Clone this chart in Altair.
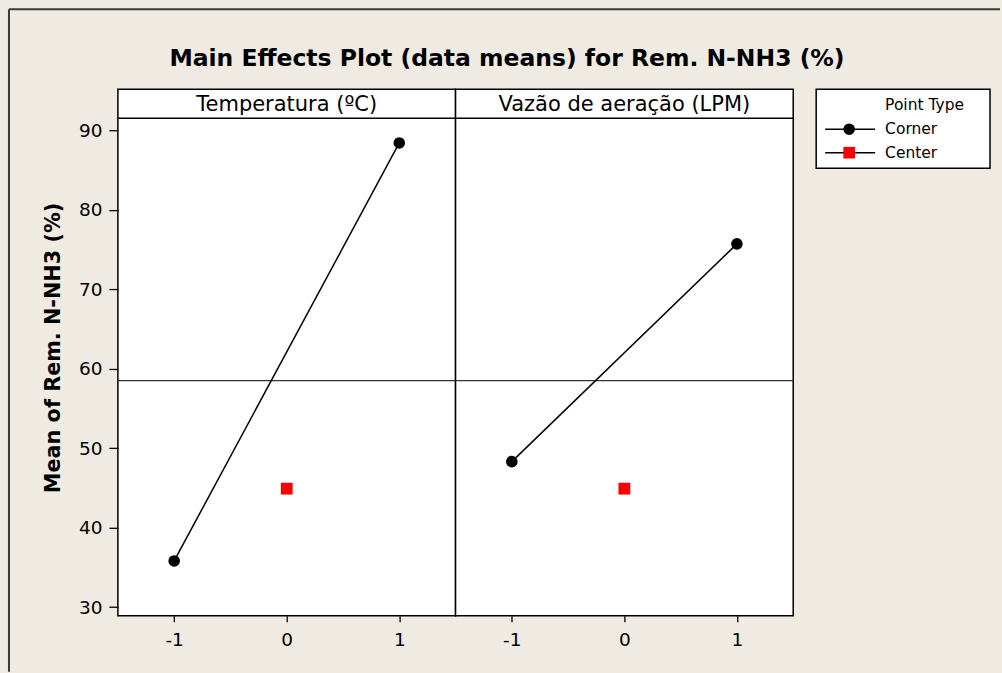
import altair as alt
import pandas as pd

# Factor names and the coded levels of the design
FACTORS = ["Temperatura (ºC)", "Vazão de aeração (LPM)"]
LEVELS = [-1, 1]

# Mean response at the corner points of each factor, and at the center point
CORNER_MEANS = [[35.8, 88.4], [48.3, 75.7]]
CENTER_LEVEL = [0]
CENTER_MEANS = [44.9, 44.9]
GRAND_MEAN = [58.5]

Y_TICKS = [30, 40, 50, 60, 70, 80, 90]
X_TICKS = [-1, 0, 1]
Y_DOMAIN = [28.91, 91.51]
X_DOMAIN = [-1.5, 1.5]

POINT_TYPES = ["Corner", "Center"]
POINT_COLORS = ["black", "red"]
POINT_SHAPES = ["circle", "square"]

TITLE = "Main Effects Plot (data means) for Rem. N-NH3 (%)"
Y_TITLE = "Mean of Rem. N-NH3 (%)"
LEGEND_TITLE = "Point Type"

FONT = "DejaVu Sans"
BG = "#EFEBE2"

PANEL_W = 338
HEADER_H = 29
PANEL_H = 527
LEGEND_GAP = 23
LEGEND_W = 174
LEGEND_H = 79

one = pd.DataFrame({"k": [0]})

y_scale = alt.Scale(domain=Y_DOMAIN, range=[PANEL_H, HEADER_H], nice=False, zero=False)
x_scale = alt.Scale(domain=X_DOMAIN, nice=False, zero=False)


def panel(i):
    corner = pd.DataFrame({"level": LEVELS, "mean": CORNER_MEANS[i]})
    center = pd.DataFrame({"level": CENTER_LEVEL, "mean": [CENTER_MEANS[i]]})
    ref = pd.DataFrame({"mean": GRAND_MEAN})
    head = pd.DataFrame({"factor": [FACTORS[i]]})

    x = alt.X(
        "level:Q",
        scale=x_scale,
        axis=alt.Axis(values=X_TICKS, title=None, labelExpr="'' + datum.value",
                      tickSize=6, labelPadding=9, grid=False, domain=False),
    )
    if i == 0:
        y_axis = alt.Axis(values=Y_TICKS, title=Y_TITLE, tickSize=9, labelPadding=7,
                          titlePadding=15, titleY=258.5, grid=False, domain=False,
                          titleFontWeight="bold", titleFontSize=20.8)
    else:
        y_axis = None
    y = alt.Y("mean:Q", scale=y_scale, axis=y_axis)

    mean_rule = alt.Chart(ref).mark_rule(color="#333333", strokeWidth=1.3).encode(y=y)
    line = alt.Chart(corner).mark_line(color="black", strokeWidth=1.5).encode(x=x, y=y)
    corners = alt.Chart(corner).mark_point(
        shape="circle", filled=True, size=135, color="black", opacity=1
    ).encode(x=x, y=y)
    centers = alt.Chart(center).mark_point(
        shape="square", filled=True, size=140, color="red", opacity=1
    ).encode(x=x, y=y)
    head_rule = alt.Chart(one).mark_rule(color="black", strokeWidth=1.5).encode(
        x=alt.value(0), x2=alt.value(PANEL_W), y=alt.value(HEADER_H)
    )
    head_text = alt.Chart(head).mark_text(
        font=FONT, fontSize=21, color="black", baseline="middle", align="center"
    ).encode(x=alt.value(PANEL_W / 2), y=alt.value(HEADER_H / 2 + 1), text="factor:N")

    layers = [mean_rule, line, corners, centers, head_rule, head_text]

    if i == 0:
        # outer frame of the figure and the main title
        frame_top = alt.Chart(one).mark_rule(color="#3a3a3a", strokeWidth=2).encode(
            x=alt.value(-109), x2=alt.value(883), y=alt.value(-80)
        )
        frame_left = alt.Chart(one).mark_rule(color="#3a3a3a", strokeWidth=2).encode(
            x=alt.value(-109), y=alt.value(-80), y2=alt.value(583)
        )
        title = alt.Chart(one).mark_text(
            font=FONT, fontSize=23.5, fontWeight="bold", color="black",
            align="center", baseline="alphabetic"
        ).encode(x=alt.value(389.5), y=alt.value(-23), text=alt.value(TITLE))
        layers = [frame_top, frame_left, title] + layers

    return alt.layer(*layers).properties(width=PANEL_W, height=PANEL_H)


# Legend: a boxed key drawn beside the panels
legend_df = pd.DataFrame({"type": POINT_TYPES})
x0 = LEGEND_GAP
ly = alt.Y("type:N", scale=alt.Scale(type="point", domain=POINT_TYPES, range=[40, 63.5], padding=0), axis=None)
legend_box = alt.Chart(one).mark_rect(fill="white", stroke="black", strokeWidth=1.5).encode(
    x=alt.value(x0), x2=alt.value(x0 + LEGEND_W), y=alt.value(0), y2=alt.value(LEGEND_H)
)
legend_rule = alt.Chart(legend_df).mark_rule(color="black", strokeWidth=1.5).encode(
    y=ly, x=alt.value(x0 + 9), x2=alt.value(x0 + 59)
)
legend_pts = alt.Chart(legend_df).mark_point(filled=True, opacity=1, size=135).encode(
    y=ly,
    x=alt.value(x0 + 33),
    shape=alt.Shape("type:N", scale=alt.Scale(domain=POINT_TYPES, range=POINT_SHAPES), legend=None),
    color=alt.Color("type:N", scale=alt.Scale(domain=POINT_TYPES, range=POINT_COLORS), legend=None),
)
legend_lbl = alt.Chart(legend_df).mark_text(
    font=FONT, fontSize=15.5, color="black", align="left", baseline="middle"
).encode(y=ly, x=alt.value(x0 + 69), text="type:N")
legend_title = alt.Chart(one).mark_text(
    font=FONT, fontSize=15.5, color="black", align="left", baseline="middle"
).encode(x=alt.value(x0 + 69), y=alt.value(16), text=alt.value(LEGEND_TITLE))
legend = alt.layer(legend_box, legend_rule, legend_pts, legend_lbl, legend_title).properties(
    width=LEGEND_GAP + LEGEND_W, height=LEGEND_H,
    view=alt.ViewConfig(stroke="transparent", fill="transparent"),
)

chart = (
    alt.hconcat(panel(0), panel(1), legend, spacing=0, bounds="flush")
    .properties(padding={"left": 7, "top": 7, "right": 0, "bottom": 0}, background=BG)
    .configure_view(stroke="black", strokeWidth=1.5, fill="white")
    .configure_axis(
        labelFont=FONT, titleFont=FONT, labelFontSize=18.5, labelColor="black",
        titleColor="black", tickColor="black", tickWidth=1.3
    )
)

chart.save("out.html", embed_options={"renderer": "svg", "actions": False})
